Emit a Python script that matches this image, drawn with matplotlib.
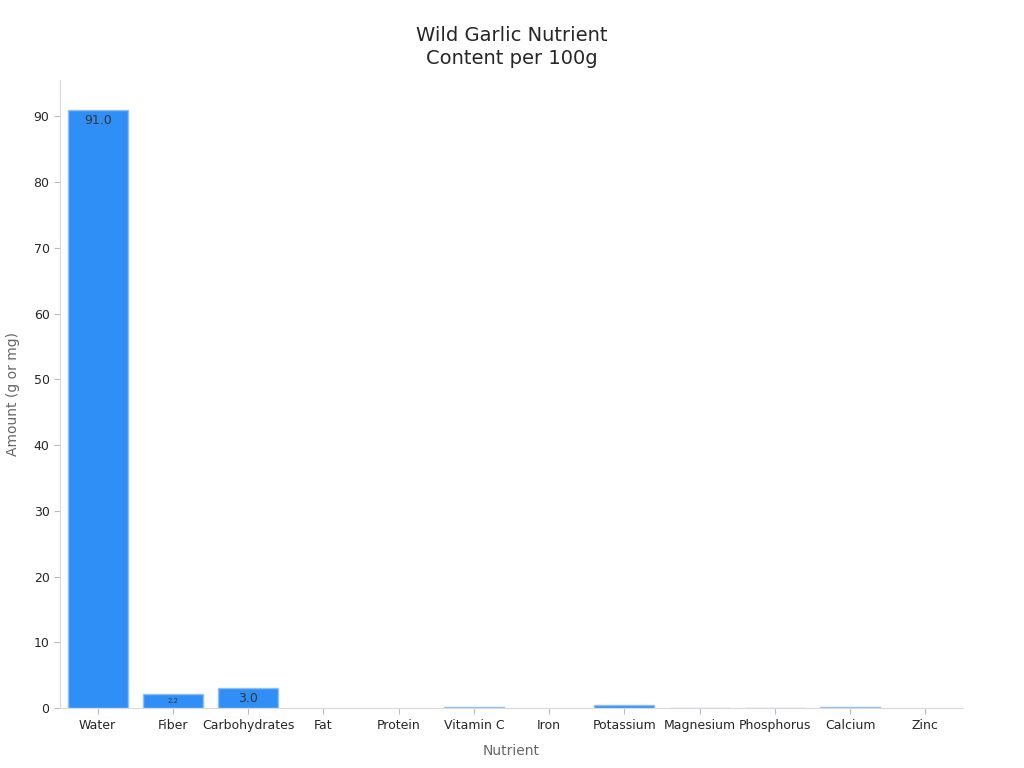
import matplotlib
matplotlib.use("Agg")
import matplotlib.pyplot as plt

plt.rcParams["font.family"] = "DejaVu Sans"

nutrients = ["Water", "Fiber", "Carbohydrates", "Fat", "Protein", "Vitamin C",
             "Iron", "Potassium", "Magnesium", "Phosphorus", "Calcium", "Zinc"]
amounts = [91.0, 2.2, 3.0, 0.0, 0.0, 0.1, 0.0, 0.4, 0.03, 0.05, 0.1, 0.0]

BAR = "#2f8ff7"
EDGE = "#8fc0f5"
INK = "#262626"
GREY = "#666666"

fig = plt.figure(figsize=(10.24, 7.68), dpi=100)
ax = fig.add_axes([0.0586, 0.078, 0.8818, 0.818])

x = range(len(nutrients))
edges = [EDGE if v > 0 else "none" for v in amounts]
bars = ax.bar(x, amounts, width=0.8, color=BAR, edgecolor=edges, linewidth=1.0)

# value labels inside the bigger bars
for rect, v in zip(bars, amounts):
    cx = rect.get_x() + rect.get_width() / 2
    if v >= 10:
        ax.text(cx, v - 0.6, f"{v:.1f}", ha="center", va="top", fontsize=9, color="#333333")
    elif v >= 2.5:
        ax.text(cx, v / 2, f"{v:.1f}", ha="center", va="center", fontsize=9, color="#333333")
    elif v >= 1:
        ax.text(cx, v / 2, f"{v:.1f}", ha="center", va="center", fontsize=5, color="#333333")

ax.set_xlim(-0.5, len(nutrients) - 0.5)
ax.set_ylim(0, max(amounts) * 1.05)
ax.set_xticks(list(x))
ax.set_xticklabels(nutrients, fontsize=9, color=INK)
ax.set_yticks(range(0, 91, 10))
ax.tick_params(axis="y", labelsize=9, colors=INK, length=4, color="#bbbbbb")
ax.tick_params(axis="x", length=4, color="#bbbbbb")
for s in ["top", "right"]:
    ax.spines[s].set_visible(False)
for s in ["left", "bottom"]:
    ax.spines[s].set_color("#d9d9d9")

ax.set_xlabel("Nutrient", fontsize=10, color=GREY, labelpad=9)
ax.set_ylabel("Amount (g or mg)", fontsize=10, color=GREY, labelpad=10)

fig.text(0.5, 0.939, "Wild Garlic Nutrient\nContent per 100g", ha="center", va="center",
         fontsize=14, color=INK, linespacing=1.3)

fig.savefig("out.png", dpi=100)
